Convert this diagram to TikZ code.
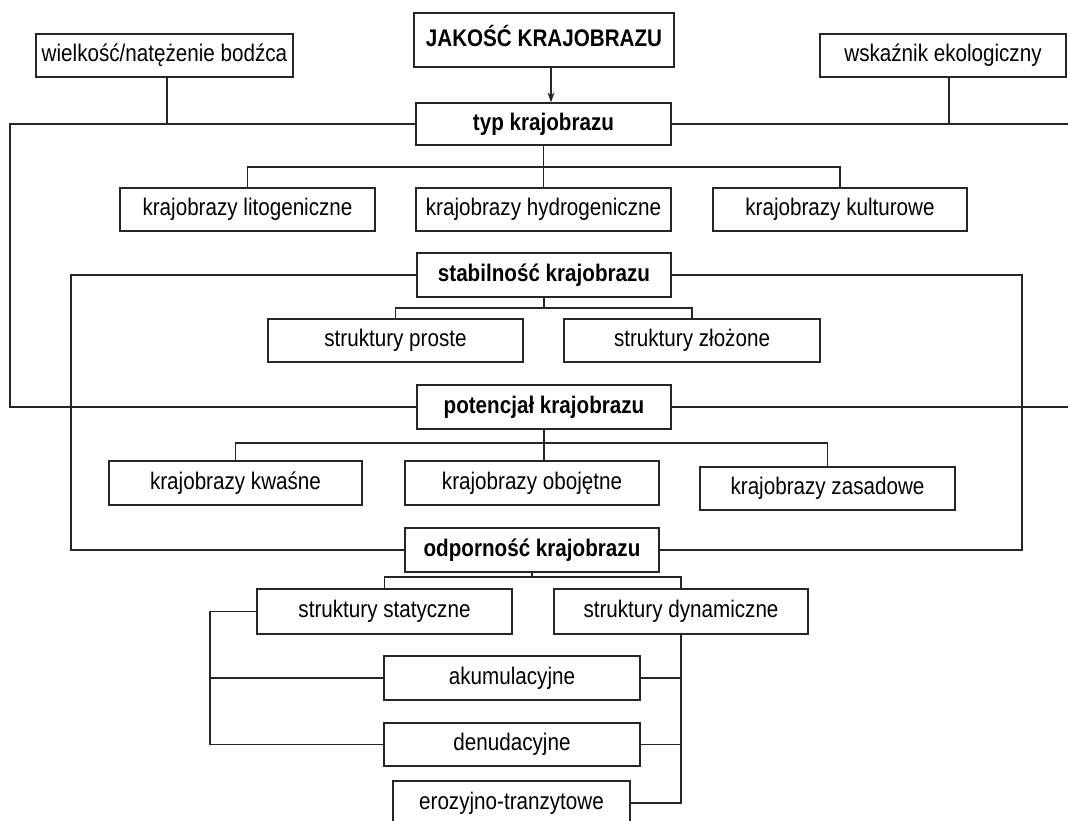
\documentclass[tikz,border=0pt]{standalone}
\usepackage{fontspec}
\setmainfont{Liberation Sans}[FakeStretch=0.86]
\usetikzlibrary{arrows.meta}
\begin{document}
\begin{tikzpicture}[x=1pt,y=-1pt,
  box/.style={draw=black!85, line width=1.2pt, minimum width=255pt, minimum height=43pt,
    inner sep=0pt, text height=17pt, text depth=4.5pt, font=\fontsize{24}{28}\selectfont},
  bbox/.style={box, font=\fontsize{24}{28}\selectfont\bfseries},
  conn/.style={draw=black!85, line width=1.2pt}]
\useasboundingbox (0,0) rectangle (1068,821);
\clip (0,0) rectangle (1068,821);

\node[box, minimum width=257pt] (wiel) at (164.5,55.5) {wielkość/natężenie bodźca};
\node[bbox, minimum width=260pt, minimum height=54pt, font=\fontsize{24}{28}\selectfont\bfseries] (jak) at (544,40) {JAKOŚĆ KRAJOBRAZU};
\node[box, minimum width=246pt] (wsk) at (943,55.5) {wskaźnik ekologiczny};
\node[bbox, minimum height=42pt] (typ) at (543.5,124) {typ krajobrazu};
\node[box] (lito) at (247.5,209.5) {krajobrazy litogeniczne};
\node[box] (hydro) at (543.5,209.5) {krajobrazy hydrogeniczne};
\node[box, minimum width=254pt] (kult) at (840,209.5) {krajobrazy kulturowe};
\node[bbox, minimum height=44pt, minimum width=254pt] (stab) at (544,275) {stabilność krajobrazu};
\node[box] (proste) at (395.5,340.5) {struktury proste};
\node[box, minimum width=256pt] (zloz) at (692,340.5) {struktury złożone};
\node[bbox, minimum height=44pt, minimum width=254pt] (pot) at (544,407) {potencjał krajobrazu};
\node[box, minimum width=253pt, minimum height=44pt] (kwas) at (235.5,483) {krajobrazy kwaśne};
\node[box, minimum width=254pt, minimum height=44pt] (oboj) at (532,483) {krajobrazy obojętne};
\node[box] (zasad) at (827.5,488.5) {krajobrazy zasadowe};
\node[bbox, minimum width=254pt, minimum height=44pt] (odp) at (532,550) {odporność krajobrazu};
\node[box, minimum height=45pt] (stat) at (384.5,611.5) {struktury statyczne};
\node[box, minimum width=254pt, minimum height=45pt] (dyn) at (681,611.5) {struktury dynamiczne};
\node[box, minimum width=256pt, minimum height=44pt] (akum) at (512,678) {akumulacyjne};
\node[box, minimum width=256pt] (denud) at (512,744.5) {denudacyjne};
\node[box, minimum width=237pt, minimum height=44pt] (eroz) at (511.5,803) {erozyjno-tranzytowe};

\coordinate (lx) at (10,0);
\coordinate (rx) at (1070,0);
\coordinate (l2x) at (71,0);
\coordinate (r2x) at (1022,0);
\coordinate (l3x) at (210,0);
\coordinate (b1) at (0,167);
\coordinate (b2) at (0,308);
\coordinate (b3) at (0,443);
\coordinate (b4) at (0,577);

\draw[conn, -{Stealth[length=10pt,width=7pt]}] ([xshift=7pt]jak.south) -- ([xshift=7pt]jak.south |- typ.north);
\draw[conn] (typ.west) -- (typ.west -| lx) -- (pot.west -| lx) -- (pot.west);
\draw[conn] ([xshift=2.5pt]wiel.south) -- ([xshift=2.5pt]wiel.south |- typ.west);
\draw[conn] (typ.east) -- (typ.east -| rx);
\draw[conn] ([xshift=6pt]wsk.south) -- ([xshift=6pt]wsk.south |- typ.east);
\draw[conn] (pot.east) -- (pot.east -| rx);
\draw[conn] (stab.west) -- (stab.west -| l2x) -- (odp.west -| l2x) -- (odp.west);
\draw[conn] (stab.east) -- (stab.east -| r2x) -- (odp.east -| r2x) -- (odp.east);

\draw[conn] (typ.south) -- (typ.south |- hydro.north);
\draw[conn] (lito.north) -- (lito.north |- b1) -- (kult.north |- b1) -- (kult.north);

\draw[conn] (stab.south) -- (stab.south |- b2);
\draw[conn] (proste.north) -- (proste.north |- b2) -- (zloz.north |- b2) -- (zloz.north);

\draw[conn] (pot.south) -- (pot.south |- oboj.north);
\draw[conn] (kwas.north) -- (kwas.north |- b3) -- (zasad.north |- b3) -- (zasad.north);

\draw[conn] (odp.south) -- (odp.south |- b4);
\draw[conn] (stat.north) -- (stat.north |- b4) -- (dyn.north |- b4) -- (dyn.north);

\draw[conn] (stat.west) -- (stat.west -| l3x) -- (denud.west -| l3x) -- (denud.west);
\draw[conn] (akum.west) -- (akum.west -| l3x);
\draw[conn] (dyn.south) -- (dyn.south |- eroz.east) -- (eroz.east);
\draw[conn] (akum.east) -- (akum.east -| dyn.south);
\draw[conn] (denud.east) -- (denud.east -| dyn.south);
\end{tikzpicture}
\end{document}
